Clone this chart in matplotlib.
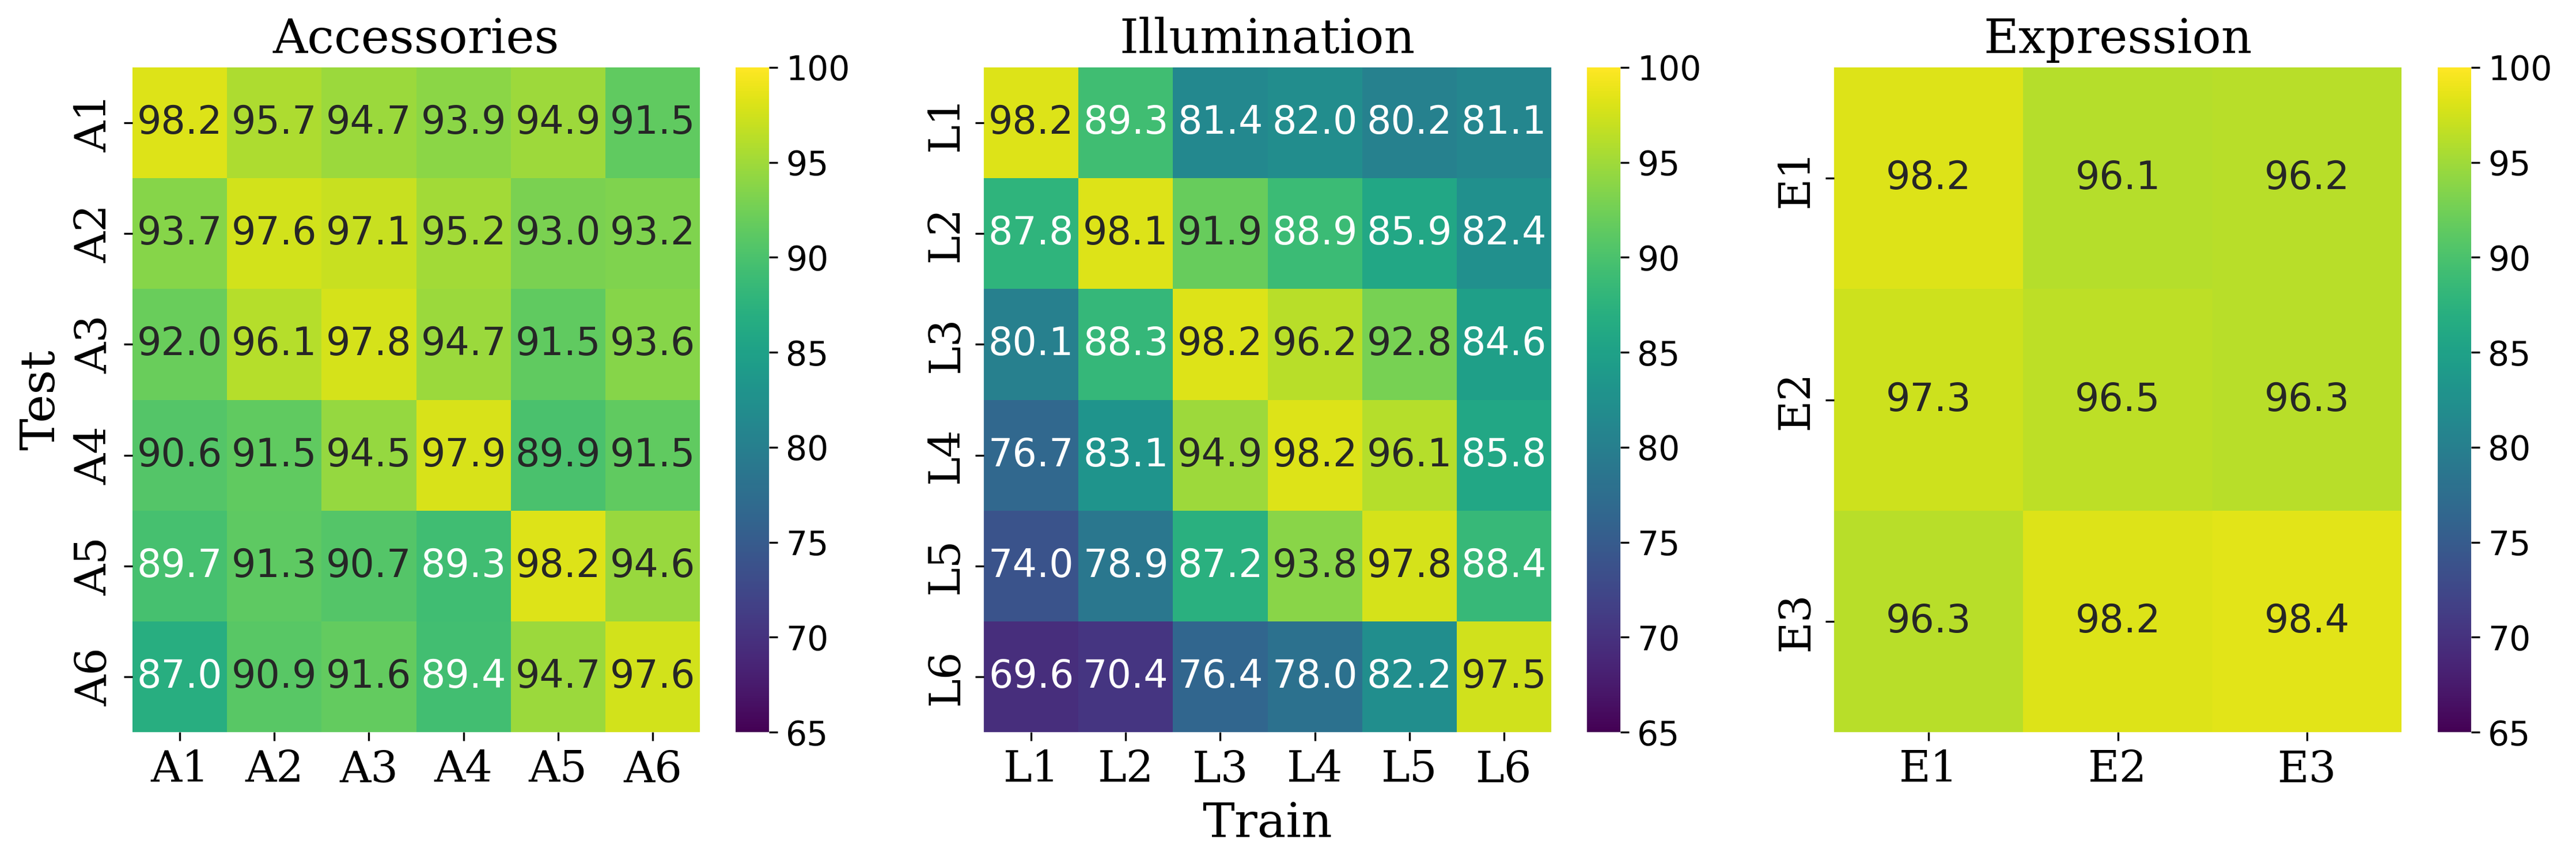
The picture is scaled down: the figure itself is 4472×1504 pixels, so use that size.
import matplotlib
matplotlib.use("Agg")
import matplotlib.pyplot as plt
import numpy as np
import seaborn as sns

acc_labels = ["A1", "A2", "A3", "A4", "A5", "A6"]
acc_values = [
    [98.2, 95.7, 94.7, 93.9, 94.9, 91.5],
    [93.7, 97.6, 97.1, 95.2, 93.0, 93.2],
    [92.0, 96.1, 97.8, 94.7, 91.5, 93.6],
    [90.6, 91.5, 94.5, 97.9, 89.9, 91.5],
    [89.7, 91.3, 90.7, 89.3, 98.2, 94.6],
    [87.0, 90.9, 91.6, 89.4, 94.7, 97.6],
]

ill_labels = ["L1", "L2", "L3", "L4", "L5", "L6"]
ill_values = [
    [98.2, 89.3, 81.4, 82.0, 80.2, 81.1],
    [87.8, 98.1, 91.9, 88.9, 85.9, 82.4],
    [80.1, 88.3, 98.2, 96.2, 92.8, 84.6],
    [76.7, 83.1, 94.9, 98.2, 96.1, 85.8],
    [74.0, 78.9, 87.2, 93.8, 97.8, 88.4],
    [69.6, 70.4, 76.4, 78.0, 82.2, 97.5],
]

exp_labels = ["E1", "E2", "E3"]
exp_values = [
    [98.2, 96.1, 96.2],
    [97.3, 96.5, 96.3],
    [96.3, 98.2, 98.4],
]

panels = [
    ("Accessories", acc_labels, acc_values),
    ("Illumination", ill_labels, ill_values),
    ("Expression", exp_labels, exp_values),
]

W, H = 4472, 1504
fig = plt.figure(figsize=(W / 300, H / 300), dpi=300)

hm_left = [230, 1708, 3184]
cb_left = [1277, 2755, 4232]
hm_w, cb_w = 985, 58
bottom = 1 - 1270 / H
height = (1270 - 117) / H

for i, (title, labels, vals) in enumerate(panels):
    ax = fig.add_axes([hm_left[i] / W, bottom, hm_w / W, height])
    cax = fig.add_axes([cb_left[i] / W, bottom, cb_w / W, height])
    sns.heatmap(np.array(vals), ax=ax, cbar_ax=cax, cmap="viridis",
                vmin=65, vmax=100, annot=True, fmt=".1f",
                annot_kws={"fontsize": 16},
                xticklabels=labels, yticklabels=labels)
    ax.set_title(title, fontsize=20, family="DejaVu Serif")
    for t in ax.get_xticklabels() + ax.get_yticklabels():
        t.set_family("DejaVu Serif")
        t.set_fontsize(18)
    cax.tick_params(labelsize=14)
    cax.set_yticks([65, 70, 75, 80, 85, 90, 95, 100])

fig.axes[0].set_ylabel("Test", fontsize=20, family="DejaVu Serif")
fig.axes[2].set_xlabel("Train", fontsize=20, family="DejaVu Serif")

fig.savefig("out.png", dpi=300)
